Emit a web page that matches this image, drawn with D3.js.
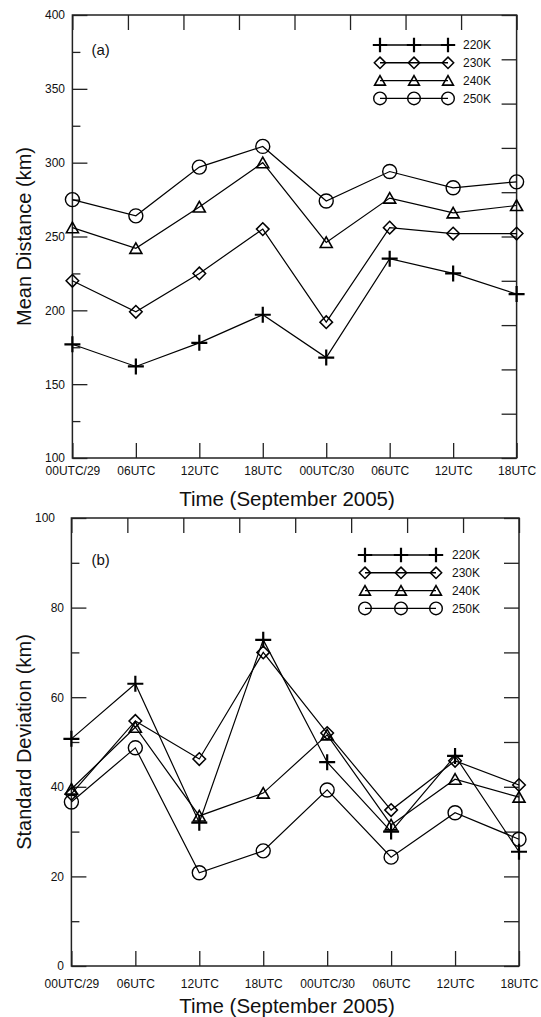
<!DOCTYPE html>
<html>
<head>
<meta charset="utf-8">
<script src="https://cdn.jsdelivr.net/npm/d3@7/dist/d3.min.js"></script>
<style>
  body { margin: 0; background: #fff; }
  svg { display: block; }
  text { font-family: "Liberation Sans", Arial, Helvetica, sans-serif; fill: #111; }
</style>
</head>
<body>
<div id="chart"></div>
<script>
// time axis labels (two days, 6-hourly)
var times = ["00UTC/29", "06UTC", "12UTC", "18UTC", "00UTC/30", "06UTC", "12UTC", "18UTC"];
var seriesNames = ["220K", "230K", "240K", "250K"];

// (a) mean distance, km
var mean220 = [177, 162, 178, 197, 168, 235, 225, 211];
var mean230 = [220, 199, 225, 255, 192, 256, 252, 252];
var mean240 = [256, 242, 270, 300, 246, 276, 266, 271];
var mean250 = [275, 264, 297, 311, 274, 294, 283, 287];

// (b) standard deviation, km
var std220 = [50.7, 63, 32, 72.8, 45.5, 30, 46.9, 25.5];
var std230 = [38.4, 54.7, 46.2, 70, 52, 34.8, 45.8, 40.4];
var std240 = [39.5, 53.3, 33.5, 38.6, 51.6, 31.5, 41.7, 37.7];
var std250 = [36.6, 48.7, 20.8, 25.7, 39.3, 24.3, 34.2, 28.3];

var meanMajor = [100, 150, 200, 250, 300, 350, 400];
var meanMinor = [125, 175, 225, 275, 325, 375];
var stdMajor = [0, 20, 40, 60, 80, 100];
var stdMinor = [10, 30, 50, 70, 90];

// open marker shapes, r = half size in px
var plusSym = { draw: function(c, r) { c.moveTo(-r, 0); c.lineTo(r, 0); c.moveTo(0, -r); c.lineTo(0, r); } };
var diamondSym = { draw: function(c, r) { c.moveTo(0, -r); c.lineTo(r, 0); c.lineTo(0, r); c.lineTo(-r, 0); c.closePath(); } };
var triSym = { draw: function(c, r) { c.moveTo(0, -r * 0.92); c.lineTo(r, r * 0.84); c.lineTo(-r, r * 0.84); c.closePath(); } };
var circSym = { draw: function(c, r) { c.moveTo(r, 0); c.arc(0, 0, r, 0, 2 * Math.PI); } };

var markers = [
  { type: plusSym, r: 8, w: 2.2 },
  { type: diamondSym, r: 6.3, w: 1.5 },
  { type: triSym, r: 6, w: 1.6 },
  { type: circSym, r: 7, w: 1.4 }
];

var width = 541, height = 1017;
var svg = d3.select("#chart").append("svg")
  .attr("width", width)
  .attr("height", height);

function symPath(m, scale) {
  return d3.symbol().type(m.type).size(m.r * (scale || 1))();
}

function drawPanel(p) {
  var g = svg.append("g");

  var x = d3.scaleLinear().domain([0, times.length - 1]).range([p.left, p.right]);
  var y = d3.scaleLinear().domain(p.domain).range([p.bottom, p.top]);

  // frame
  g.append("rect")
    .attr("x", p.left).attr("y", p.top)
    .attr("width", p.right - p.left).attr("height", p.bottom - p.top)
    .attr("fill", "none").attr("stroke", "#222").attr("stroke-width", 1.5);

  // left axis, major + minor
  var yl = g.append("g")
    .attr("transform", "translate(" + p.left + ",0)")
    .call(d3.axisLeft(y).tickValues(p.major).tickSizeInner(-15).tickSizeOuter(0)
      .tickPadding(7.4).tickFormat(d3.format("d")));
  yl.selectAll("text").style("font-size", "12px");
  if (p.shiftTopLabel) {
    yl.selectAll(".tick text").filter(function(d) { return d === p.domain[1]; })
      .attr("x", -16.4);
  }
  g.append("g")
    .attr("transform", "translate(" + p.left + ",0)")
    .call(d3.axisLeft(y).tickValues(p.minor).tickSize(-8).tickFormat(""));

  // right axis: plain ticks, 10 divisions
  var yr = d3.scaleLinear().domain([0, 10]).range([p.bottom, p.top]);
  g.append("g")
    .attr("transform", "translate(" + p.right + ",0)")
    .call(d3.axisRight(yr).tickValues(d3.range(11)).tickSize(-15).tickFormat(""));

  // top axis: plain ticks, 8 divisions
  var xt = d3.scaleLinear().domain([0, 8]).range([p.left, p.right]);
  g.append("g")
    .attr("transform", "translate(0," + p.top + ")")
    .call(d3.axisTop(xt).tickValues(d3.range(9)).tickSize(-15).tickFormat(""));

  // bottom axis with the time labels
  var xb = g.append("g")
    .attr("transform", "translate(0," + p.bottom + ")")
    .call(d3.axisBottom(x).tickValues(d3.range(times.length)).tickSize(-15)
      .tickPadding(p.xPad).tickFormat(function(i) { return times[i]; }));
  xb.selectAll("text").style("font-size", "12px");

  g.selectAll(".domain").remove();
  g.selectAll(".tick line").attr("stroke", "#222").attr("stroke-width", 1.3);

  // series
  var line = d3.line().x(function(d, i) { return x(i); }).y(function(d) { return y(d); });
  p.series.forEach(function(vals, s) {
    g.append("path")
      .datum(vals)
      .attr("d", line)
      .attr("fill", "none").attr("stroke", "#000").attr("stroke-width", 1.2);
    g.selectAll(null)
      .data(vals)
      .enter()
      .append("path")
        .attr("transform", function(d, i) { return "translate(" + x(i) + "," + y(d) + ")"; })
        .attr("d", symPath(markers[s]))
        .attr("fill", "none").attr("stroke", "#000").attr("stroke-width", markers[s].w);
  });

  // legend
  seriesNames.forEach(function(name, s) {
    var ly = p.legendY + s * 17.8;
    g.append("line")
      .attr("x1", p.legendX[0]).attr("x2", p.legendX[2])
      .attr("y1", ly).attr("y2", ly)
      .attr("stroke", "#000").attr("stroke-width", 1.4);
    p.legendX.forEach(function(lx) {
      g.append("path")
        .attr("transform", "translate(" + lx + "," + ly + ")")
        .attr("d", symPath(markers[s], 0.9))
        .attr("fill", "none").attr("stroke", "#000").attr("stroke-width", markers[s].w);
    });
    g.append("text")
      .attr("x", p.legendText).attr("y", ly).attr("dy", "0.35em")
      .style("font-size", "12px")
      .text(name);
  });

  // panel tag
  g.append("text")
    .attr("x", 91.5).attr("y", p.tagY)
    .style("font-size", "15px")
    .text(p.tag);

  // axis titles
  g.append("text")
    .attr("transform", "translate(30.5," + ((p.top + p.bottom) / 2) + ") rotate(-90)")
    .style("text-anchor", "middle")
    .style("font-size", "20px")
    .text(p.ylabel);

  g.append("text")
    .attr("x", 287).attr("y", p.titleY)
    .style("text-anchor", "middle")
    .style("font-size", "20.5px")
    .text("Time (September 2005)");
}

drawPanel({
  left: 72.4, right: 516.6, top: 15, bottom: 458,
  domain: [100, 400], major: meanMajor, minor: meanMinor,
  series: [mean220, mean230, mean240, mean250],
  xPad: 8.5, titleY: 505.5,
  legendX: [380, 414, 448], legendText: 463, legendY: 45,
  tag: "(a)", tagY: 55,
  ylabel: "Mean Distance (km)"
});

drawPanel({
  left: 71.4, right: 519, top: 518, bottom: 966,
  domain: [0, 100], major: stdMajor, minor: stdMinor,
  series: [std220, std230, std240, std250],
  xPad: 13.5, titleY: 1013, shiftTopLabel: true,
  legendX: [365, 401, 436], legendText: 452, legendY: 555,
  tag: "(b)", tagY: 565,
  ylabel: "Standard Deviation (km)"
});
</script>
</body>
</html>
